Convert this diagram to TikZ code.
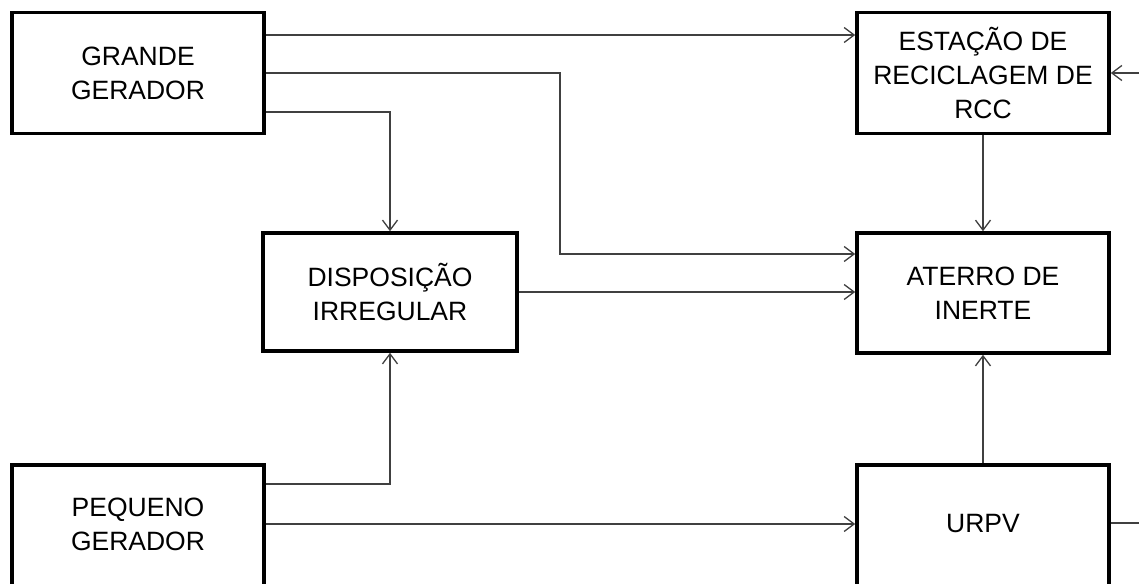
\documentclass[tikz,border=0pt]{standalone}
\usepackage{fontspec}
\setmainfont{Liberation Sans}
\usetikzlibrary{arrows.meta}
\begin{document}
\begin{tikzpicture}[x=1pt,y=-1pt,
  blockbox/.style={draw=black,line width=3.6pt,minimum width=252pt,minimum height=121pt,
    inner sep=0pt,align=center,font=\fontsize{26.5}{34}\selectfont},
  conn/.style={draw=black!75,line width=1.3pt},
  arr/.style={conn,-{Straight Barb[length=10pt,width=15pt,line width=1.3pt]}}]
\useasboundingbox (0,0) rectangle (1139,583);
\begin{scope}
\clip (0,0) rectangle (1139,583);
\node[blockbox] (G) at (138,73) {GRANDE\\GERADOR};
\node[blockbox] (E) at (983,73) {ESTAÇÃO DE\\RECICLAGEM DE\\RCC};
\node[blockbox,minimum width=254pt,minimum height=118pt] (D) at (390,292) {DISPOSIÇÃO\\IRREGULAR};
\node[blockbox,minimum height=120pt] (A) at (983,293) {ATERRO DE\\INERTE};
\node[blockbox,minimum height=140pt,anchor=north] (P) at (138,463) {PEQUENO\\GERADOR\rule[-22pt]{0pt}{22pt}};
\node[blockbox,minimum height=140pt,anchor=north] (U) at (983,463) {URPV\rule[-22pt]{0pt}{22pt}};
\coordinate (b1) at (560,73);
\coordinate (r1) at (1139,73);
\coordinate (r2) at (1139,523);
% connectors
\draw[arr] ([yshift=38pt]G.east) -- ([yshift=38pt]E.west);
\draw[arr] (G.east) -- (b1) |- ([yshift=39pt]A.west);
\draw[arr] ([yshift=-39pt]G.east) -| (D.north);
\draw[arr] (D.east) -- (D.east -| A.west);
\draw[arr] (E.south) -- (A.north);
\draw[arr] (r1) -- (E.east);
\draw[arr] ([yshift=-21pt]P.north east) -| (D.south);
\draw[arr] ([yshift=-61pt]P.north east) -- ([yshift=-61pt]U.north west);
\draw[arr] (U.north) -- (A.south);
\draw[conn] (U.east |- r2) -- (r2);
\end{scope}
\end{tikzpicture}
\end{document}
